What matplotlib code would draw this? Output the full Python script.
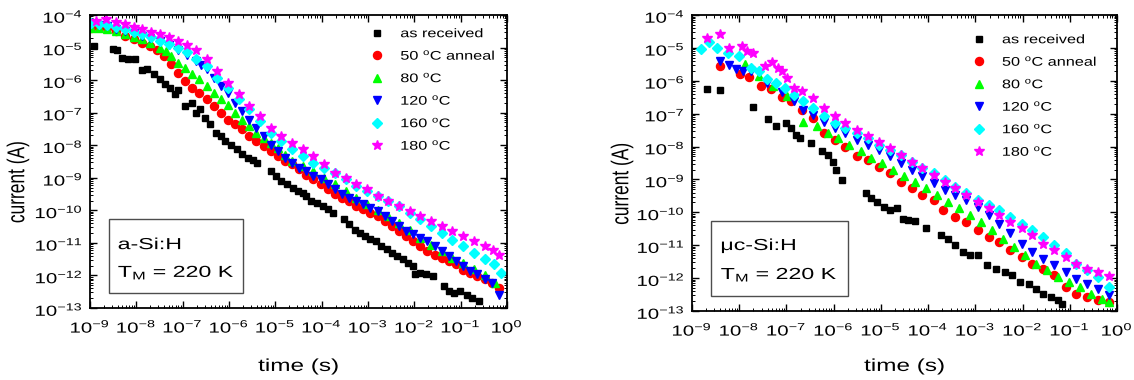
import numpy as np
import matplotlib
matplotlib.use("Agg")
import matplotlib.pyplot as plt
from matplotlib.ticker import LogLocator, LogFormatterMathtext, NullFormatter
from matplotlib.patheffects import AbstractPathEffect
from matplotlib.transforms import Affine2D
from matplotlib.patches import Rectangle

plt.rcParams['font.family'] = ['Liberation Sans', 'DejaVu Sans']
plt.rcParams['mathtext.fontset'] = 'custom'
plt.rcParams['mathtext.rm'] = 'Liberation Sans'
plt.rcParams['mathtext.it'] = 'Liberation Sans'
plt.rcParams['mathtext.default'] = 'regular'
plt.rcParams['axes.unicode_minus'] = False

# ---------------- data (log10 of time in s, log10 of current in A) ----------------
labels = ['as received', r'50 $^{\rm o}$C anneal', r'80 $^{\rm o}$C',
          r'120 $^{\rm o}$C', r'160 $^{\rm o}$C', r'180 $^{\rm o}$C']
colors = ['black', '#ff0000', '#00ff00', '#0000ff', '#00ffff', '#ff00ff']
markers = ['s', 'o', '^', 'v', 'D', '*']
msizes = [5, 5.8, 6.3, 6.3, 5.2, 7.5]

# a-Si:H
a_black_t = [-8.92, -8.50, -8.41, -8.30, -8.18, -8.04, -7.87, -7.76, -7.61, -7.49, -7.39, -7.27, -7.17, -7.10,
             -6.95, -6.81, -6.72, -6.62, -6.52, -6.41, -6.29, -6.18, -6.08, -5.95, -5.83, -5.72, -5.60, -5.48,
             -5.39, -5.10, -4.98, -4.87, -4.75, -4.63, -4.52, -4.41, -4.33, -4.22, -4.10, -3.98, -3.87, -3.75,
             -3.52, -3.41, -3.29, -3.18, -3.06, -2.95, -2.83, -2.72, -2.60, -2.48, -2.37, -2.25, -2.14, -2.02,
             -1.98, -1.87, -1.75, -1.60, -1.37, -1.25, -1.14, -1.02, -0.87, -0.75, -0.60]
a_black_i = [-4.95, -5.03, -5.06, -5.31, -5.34, -5.36, -5.69, -5.65, -5.82, -5.98, -6.13, -6.23, -6.44, -6.31,
             -6.78, -6.69, -7.00, -6.90, -7.16, -7.36, -7.62, -7.72, -7.87, -7.98, -8.13, -8.28, -8.39, -8.44,
             -8.54, -8.80, -8.95, -9.10, -9.20, -9.31, -9.41, -9.46, -9.56, -9.72, -9.77, -9.87, -9.97, -10.08,
             -10.28, -10.43, -10.59, -10.69, -10.79, -10.87, -10.95, -11.10, -11.20, -11.31, -11.41, -11.51,
             -11.61, -11.72, -11.97, -11.92, -11.97, -12.02, -12.33, -12.48, -12.53, -12.48, -12.59, -12.69, -12.79]

a_red_t = [-8.98, -8.80, -8.63, -8.45, -8.25, -8.05, -7.87, -7.70, -7.56, -7.41, -7.25, -7.10, -6.95, -6.79,
           -6.64, -6.48, -6.33, -6.18, -6.02, -5.87, -5.72, -5.56, -5.41, -5.25, -5.10, -4.95, -4.79, -4.64,
           -4.48, -4.33, -4.18, -4.02, -3.87, -3.72, -3.56, -3.41, -3.25, -3.10, -2.95, -2.79, -2.64, -2.48,
           -2.33, -2.18, -2.02, -1.87, -1.72, -1.56, -1.41, -1.25, -1.10, -0.95, -0.79, -0.64, -0.48, -0.33, -0.17]
a_red_i = [-4.39, -4.38, -4.39, -4.50, -4.65, -4.75, -4.85, -4.95, -5.06, -5.26, -5.52, -5.77, -6.03, -6.23,
           -6.39, -6.59, -6.80, -7.00, -7.21, -7.36, -7.51, -7.72, -7.87, -8.03, -8.18, -8.33, -8.49, -8.59,
           -8.74, -8.90, -9.05, -9.20, -9.36, -9.51, -9.61, -9.72, -9.87, -9.97, -10.08, -10.18, -10.33, -10.49,
           -10.64, -10.79, -10.95, -11.10, -11.25, -11.36, -11.46, -11.56, -11.66, -11.82, -11.92, -12.02,
           -12.12, -12.23, -12.38]

a_green_t = [-8.98, -8.80, -8.63, -8.45, -8.25, -8.05, -7.87, -7.70, -7.49, -7.37, -7.25, -7.10, -6.95, -6.79,
             -6.64, -6.48, -6.33, -6.18, -6.02, -5.87, -5.72, -5.56, -5.41, -5.25, -5.10, -4.95, -4.79, -4.64,
             -4.41, -4.18, -3.95, -3.72, -3.48, -3.25, -3.02, -2.79, -2.56, -2.33, -2.10, -1.87, -1.64, -1.41,
             -1.18, -0.95, -0.72, -0.48, -0.25]
a_green_i = [-4.39, -4.40, -4.42, -4.50, -4.59, -4.67, -4.75, -4.86, -5.00, -5.12, -5.26, -5.47, -5.62, -5.82,
             -5.98, -6.18, -6.39, -6.59, -6.75, -7.00, -7.21, -7.41, -7.62, -7.77, -7.92, -8.08, -8.30, -8.49,
             -8.64, -8.80, -9.00, -9.20, -9.40, -9.62, -9.80, -9.98, -10.18, -10.38, -10.60, -10.84, -11.05,
             -11.25, -11.45, -11.62, -11.80, -12.00, -12.22]

a_blue_t = [-8.98, -8.80, -8.63, -8.45, -8.25, -8.05, -7.87, -7.70, -7.49, -7.30, -7.10, -6.90, -6.72, -6.60,
            -6.48, -6.33, -6.18, -6.02, -5.87, -5.72, -5.56, -5.41, -5.25, -5.10, -4.95, -4.79, -4.64, -4.48,
            -4.33, -4.18, -4.02, -3.87, -3.72, -3.56, -3.41, -3.25, -3.10, -2.95, -2.79, -2.64, -2.48, -2.33,
            -2.18, -2.02, -1.87, -1.72, -1.56, -1.41, -1.25, -1.10, -0.95, -0.79, -0.64, -0.48, -0.33, -0.17]
a_blue_i = [-4.29, -4.32, -4.35, -4.42, -4.49, -4.56, -4.63, -4.70, -4.80, -4.92, -5.06, -5.22, -5.41, -5.54,
            -5.67, -5.93, -6.18, -6.39, -6.69, -6.95, -7.21, -7.46, -7.72, -7.98, -8.18, -8.39, -8.54, -8.70,
            -8.80, -8.95, -9.05, -9.20, -9.36, -9.51, -9.61, -9.72, -9.82, -9.92, -10.02, -10.18, -10.33, -10.49,
            -10.64, -10.74, -10.84, -10.95, -11.10, -11.25, -11.41, -11.56, -11.72, -11.87, -11.97, -12.12,
            -12.23, -12.59]

a_cyan_t = [-8.98, -8.80, -8.63, -8.45, -8.25, -8.05, -7.87, -7.68, -7.49, -7.30, -7.10, -6.90, -6.72, -6.48,
            -6.25, -6.02, -5.79, -5.56, -5.33, -5.10, -4.87, -4.64, -4.41, -4.18, -3.95, -3.72, -3.48, -3.25,
            -3.02, -2.79, -2.56, -2.33, -2.10, -1.87, -1.64, -1.41, -1.18, -0.95, -0.72, -0.48, -0.29, -0.14]
a_cyan_i = [-4.24, -4.28, -4.32, -4.38, -4.44, -4.52, -4.59, -4.69, -4.80, -4.90, -5.00, -5.15, -5.36, -5.57,
            -5.93, -6.23, -6.59, -6.90, -7.26, -7.62, -7.87, -8.13, -8.33, -8.54, -8.69, -8.85, -9.05, -9.26,
            -9.41, -9.56, -9.72, -9.87, -10.08, -10.28, -10.49, -10.69, -10.90, -11.10, -11.31, -11.51, -11.66,
            -11.92]

a_mag_t = [-8.88, -8.65, -8.45, -8.25, -8.05, -7.87, -7.68, -7.49, -7.30, -7.10, -6.90, -6.72, -6.48, -6.25,
           -6.02, -5.79, -5.56, -5.33, -5.10, -4.87, -4.64, -4.41, -4.18, -3.95, -3.72, -3.48, -3.25, -3.02,
           -2.79, -2.56, -2.33, -2.10, -1.87, -1.64, -1.41, -1.18, -0.95, -0.72, -0.48, -0.30, -0.17]
a_mag_i = [-4.18, -4.13, -4.22, -4.29, -4.36, -4.44, -4.51, -4.58, -4.68, -4.80, -4.92, -5.06, -5.36, -5.72,
           -6.08, -6.44, -6.80, -7.10, -7.46, -7.72, -7.92, -8.13, -8.33, -8.59, -8.85, -9.00, -9.20, -9.36,
           -9.56, -9.72, -9.87, -10.03, -10.18, -10.33, -10.49, -10.64, -10.79, -10.95, -11.10, -11.22, -11.36]

# uc-Si:H
m_black_t = [-8.69, -8.40, -7.70, -7.40, -7.23, -7.00, -6.91, -6.79, -6.72, -6.48, -6.25, -6.13, -6.02, -5.94,
             -5.82, -5.32, -5.20, -5.08, -4.93, -4.81, -4.66, -4.54, -4.43, -4.27, -4.04, -3.73, -3.57, -3.42,
             -3.26, -3.11, -2.95, -2.76, -2.57, -2.37, -2.22, -2.06, -1.87, -1.71, -1.56, -1.40, -1.25, -1.17]
m_black_i = [-6.25, -6.29, -6.81, -7.15, -7.36, -7.29, -7.44, -7.64, -7.74, -7.90, -8.15, -8.25, -8.46, -8.71,
             -9.02, -9.42, -9.57, -9.68, -9.83, -9.93, -9.88, -10.19, -10.24, -10.26, -10.47, -10.69, -10.80,
             -11.00, -11.20, -11.30, -11.30, -11.61, -11.71, -11.81, -11.91, -12.12, -12.17, -12.32, -12.47,
             -12.56, -12.66, -12.78]

m_red_t = [-8.40, -7.99, -7.80, -7.53, -7.33, -7.10, -6.91, -6.67, -6.44, -6.21, -5.98, -5.75, -5.51, -5.28,
           -5.05, -4.81, -4.58, -4.35, -4.12, -3.88, -3.69, -3.42, -3.19, -2.95, -2.72, -2.49, -2.26, -2.02,
           -1.79, -1.56, -1.33, -1.09, -0.86, -0.63, -0.40, -0.17]
m_red_i = [-5.56, -5.78, -5.88, -6.17, -6.25, -6.49, -6.62, -6.88, -7.13, -7.59, -7.79, -8.00, -8.30, -8.40,
           -8.61, -8.81, -9.07, -9.27, -9.47, -9.63, -9.93, -10.13, -10.29, -10.54, -10.74, -10.90, -11.15,
           -11.36, -11.56, -11.71, -11.91, -12.27, -12.47, -12.58, -12.68, -12.73]

m_green_t = [-7.88, -7.57, -7.29, -6.98, -6.64, -6.36, -6.13, -5.90, -5.67, -5.43, -5.20, -4.97, -4.74, -4.50,
             -4.27, -4.04, -3.81, -3.57, -3.34, -3.11, -2.88, -2.64, -2.41, -2.18, -1.95, -1.71, -1.48, -1.25,
             -1.02, -0.78, -0.55, -0.32, -0.17]
m_green_i = [-5.48, -5.86, -6.17, -6.47, -7.24, -7.39, -7.59, -7.74, -7.95, -8.15, -8.35, -8.51, -8.71, -8.91,
             -9.07, -9.27, -9.47, -9.68, -9.88, -10.08, -10.29, -10.54, -10.80, -11.05, -11.30, -11.56, -11.76,
             -11.97, -12.12, -12.27, -12.47, -12.63, -12.73]

m_blue_t = [-8.40, -8.22, -8.07, -7.91, -7.76, -7.41, -7.10, -6.83, -6.64, -6.44, -6.21, -5.98, -5.75, -5.51,
            -5.28, -5.05, -4.81, -4.58, -4.35, -4.12, -3.88, -3.65, -3.42, -3.19, -2.95, -2.72, -2.49, -2.26,
            -2.02, -1.79, -1.56, -1.33, -1.09, -0.86, -0.63, -0.40, -0.17]
m_blue_i = [-5.40, -5.51, -5.64, -5.71, -5.71, -6.07, -6.35, -6.62, -6.88, -7.03, -7.24, -7.44, -7.59, -7.79,
            -7.95, -8.10, -8.30, -8.51, -8.71, -8.91, -9.12, -9.32, -9.47, -9.63, -9.83, -10.08, -10.34, -10.64,
            -10.95, -11.20, -11.41, -11.61, -11.81, -12.02, -12.17, -12.32, -12.52]

m_cyan_t = [-8.81, -8.63, -8.47, -8.24, -8.01, -7.76, -7.57, -7.41, -7.22, -7.02, -6.83, -6.64, -6.44, -6.21,
            -5.98, -5.75, -5.51, -5.28, -5.05, -4.81, -4.58, -4.35, -4.12, -3.88, -3.65, -3.42, -3.19, -2.95,
            -2.72, -2.49, -2.26, -2.02, -1.79, -1.56, -1.33, -1.09, -0.86, -0.63, -0.40, -0.17]
m_cyan_i = [-5.03, -4.82, -5.00, -5.15, -5.25, -5.61, -5.71, -5.96, -6.07, -6.22, -6.42, -6.62, -6.83, -7.08,
            -7.29, -7.44, -7.59, -7.74, -7.95, -8.10, -8.25, -8.46, -8.66, -8.81, -9.02, -9.22, -9.42, -9.63,
            -9.78, -9.93, -10.13, -10.34, -10.54, -10.74, -11.00, -11.25, -11.56, -11.76, -11.97, -12.27]

m_mag_t = [-8.69, -8.40, -8.22, -7.93, -7.84, -7.71, -7.45, -7.31, -7.18, -7.10, -6.98, -6.83, -6.67, -6.44,
           -6.21, -5.98, -5.75, -5.51, -5.28, -5.05, -4.81, -4.58, -4.35, -4.12, -3.88, -3.65, -3.42, -3.19,
           -2.95, -2.72, -2.49, -2.26, -2.02, -1.79, -1.56, -1.33, -1.09, -0.86, -0.63, -0.40, -0.17]
m_mag_i = [-4.69, -4.59, -5.00, -4.95, -5.10, -5.15, -5.56, -5.43, -5.61, -5.71, -5.91, -6.22, -6.32, -6.52,
           -6.83, -7.08, -7.29, -7.49, -7.69, -7.85, -8.05, -8.25, -8.46, -8.66, -8.86, -9.07, -9.27, -9.47,
           -9.68, -9.88, -10.08, -10.29, -10.49, -10.69, -10.95, -11.15, -11.36, -11.56, -11.71, -11.81, -11.94]

a_series = [(a_black_t, a_black_i), (a_red_t, a_red_i), (a_green_t, a_green_i),
            (a_blue_t, a_blue_i), (a_cyan_t, a_cyan_i), (a_mag_t, a_mag_i)]
m_series = [(m_black_t, m_black_i), (m_red_t, m_red_i), (m_green_t, m_green_i),
            (m_blue_t, m_blue_i), (m_cyan_t, m_cyan_i), (m_mag_t, m_mag_i)]


# the reference's lettering is drawn wide, so stretch text glyphs sideways
class Stretch(AbstractPathEffect):
    def __init__(self, sx, anchor='center'):
        super().__init__()
        self.sx = sx
        self.anchor = anchor

    def draw_path(self, renderer, gc, tpath, affine, rgbFace=None):
        ext = tpath.get_extents(affine)
        if self.anchor == 'left':
            x0 = ext.x0
        elif self.anchor == 'right':
            x0 = ext.x1
        else:
            x0 = 0.5 * (ext.x0 + ext.x1)
        tr = affine + Affine2D().translate(-x0, 0).scale(self.sx, 1).translate(x0, 0)
        renderer.draw_path(gc, tpath, tr, rgbFace)


fig = plt.figure(figsize=(11.34, 3.8), dpi=100)
ax1 = fig.add_axes([0.0794, 0.1895, 0.3677, 0.771])
ax2 = fig.add_axes([0.6102, 0.1816, 0.3748, 0.7789])

box_texts = []
legends = []


def draw(ax, series, name, box, line_y, text_x, leg_x, leg_y, ylab_x, xlab_y):
    for (t, i), c, m, ms, lab in zip(series, colors, markers, msizes, labels):
        ax.plot(10 ** np.array(t), 10 ** np.array(i), ls='none', marker=m, ms=ms,
                color=c, mec=c, label=lab)
    ax.set_xscale('log')
    ax.set_yscale('log')
    ax.set_xlim(1e-9, 1e0)
    ax.set_ylim(1e-13, 1e-4)
    ax.xaxis.set_major_locator(LogLocator(base=10, numticks=20))
    ax.yaxis.set_major_locator(LogLocator(base=10, numticks=20))
    ax.xaxis.set_minor_locator(LogLocator(base=10, subs=np.arange(2, 10), numticks=20))
    ax.yaxis.set_minor_locator(LogLocator(base=10, subs=np.arange(2, 10), numticks=20))
    ax.xaxis.set_minor_formatter(NullFormatter())
    ax.yaxis.set_minor_formatter(NullFormatter())
    ax.xaxis.set_major_formatter(LogFormatterMathtext())
    ax.yaxis.set_major_formatter(LogFormatterMathtext())
    ax.tick_params(which='both', direction='in', top=True, right=True, labelsize=10.5)
    ax.tick_params(which='major', length=5, width=1)
    ax.tick_params(which='minor', length=2.5, width=0.7)
    ax.tick_params(axis='x', pad=6.5)
    ax.tick_params(axis='y', pad=5)
    for s in ax.spines.values():
        s.set_linewidth(1.3)
    ax.set_xlabel('time (s)', fontsize=12.5)
    ax.set_ylabel('current (A)', fontsize=12.5)
    ax.xaxis.set_label_coords(0.5, xlab_y)
    ax.yaxis.set_label_coords(ylab_x, 0.43)
    ax.add_patch(Rectangle(box[:2], box[2], box[3], transform=ax.transAxes,
                           fc='white', ec='0.3', lw=1, zorder=5))
    box_texts.append(ax.text(text_x, line_y[0], name, transform=ax.transAxes,
                             ha='left', va='baseline', fontsize=11.5, zorder=6))
    box_texts.append(ax.text(text_x, line_y[1], 'T$_{\\rm M}$ = 220 K', transform=ax.transAxes,
                             ha='left', va='baseline', fontsize=11.5, zorder=6))
    legends.append(ax.legend(loc='upper left', bbox_to_anchor=(leg_x, leg_y), frameon=False,
                             fontsize=9, handlelength=1, handletextpad=1.35, labelspacing=0.68,
                             borderpad=0, borderaxespad=0, numpoints=1))


draw(ax1, a_series, 'a-Si:H', (0.0456, 0.0512, 0.3213, 0.2526), (0.201, 0.106), 0.067,
     0.674, 0.955, -0.155, -0.174)
draw(ax2, m_series, 'μc-Si:H', (0.0447, 0.0507, 0.3224, 0.2534), (0.206, 0.108), 0.068,
     0.6606, 0.935, -0.147, -0.162)

fig.canvas.draw()
for ax in (ax1, ax2):
    for t in ax.get_xticklabels():
        t.set_path_effects([Stretch(1.4, 'center')])
    for t in ax.get_yticklabels():
        t.set_path_effects([Stretch(1.4, 'right')])
    ax.xaxis.label.set_path_effects([Stretch(1.4, 'center')])
    ax.yaxis.label.set_path_effects([Stretch(1.4, 'center')])
for t in box_texts:
    t.set_path_effects([Stretch(1.45, 'left')])
for lg in legends:
    for t in lg.get_texts():
        t.set_path_effects([Stretch(1.3, 'left')])

fig.savefig('out.png', dpi=100)
